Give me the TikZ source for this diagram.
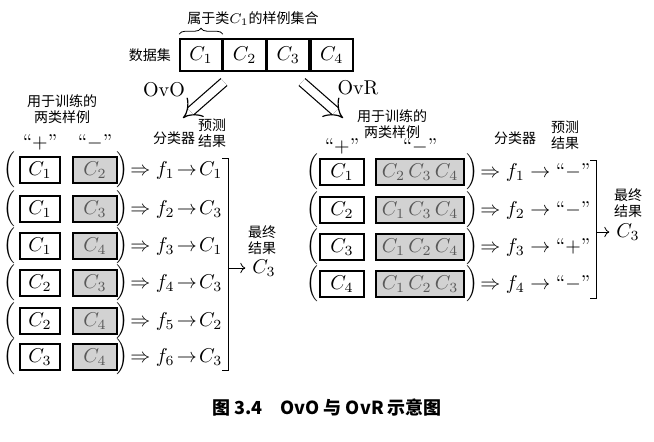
\documentclass[tikz,border=0pt]{standalone}
\usepackage{fontspec}
\newfontfamily\cjk{Noto Sans CJK SC}
\usetikzlibrary{positioning,arrows.meta,decorations.pathreplacing}
\tikzstyle{cls}=[draw, line width=1pt, minimum height=13pt, inner sep=1pt]
\tikzstyle{posbox}=[cls, fill=white, minimum width=20pt]
\tikzstyle{negbox}=[cls, fill=gray!35, text=black!65]
\tikzstyle{dbox}=[draw, line width=0.8pt, minimum width=21pt, minimum height=16pt, inner sep=1pt]
\tikzstyle{note}=[font=\cjk\scriptsize, align=center, inner sep=1pt]
\tikzstyle{bigarrow}=[double, line width=0.6pt, double distance=4pt, -{Implies[length=4pt]}]
\newcommand{\paren}[1]{\node[inner sep=0pt] at #1}

\begin{document}
\begin{tikzpicture}[x=0.5pt, y=-0.5pt]
\useasboundingbox (0,0) rectangle (654,441);
% data set on top
\node[dbox] (d1) at (201,55) {$C_1$};
\node[dbox, right=0pt of d1] (d2) {$C_2$};
\node[dbox, right=0pt of d2] (d3) {$C_3$};
\node[dbox, right=0pt of d3] (d4) {$C_4$};
\node[note, left=3pt of d1] (dset) {数据集};
\draw[decorate, decoration={brace, amplitude=3pt, raise=2pt}] (d1.north west) -- (d1.north east) coordinate[midway] (br);
\node[note, above=5pt of br, anchor=south west, xshift=-8pt] (brlab) {属于类$C_1$的样例集合};
\coordinate (ovo0) at (224,82); \coordinate (ovo1) at (183,118);
\coordinate (ovr0) at (302,82); \coordinate (ovr1) at (343,118);
\draw[bigarrow] (ovo0) -- (ovo1);
\draw[bigarrow] (ovr0) -- (ovr1);
\node (ovo) at (164,90) {OvO};
\node (ovr) at (358,88) {OvR};
% OvO
\node[note] (lhead) at (62,109) {用于训练的\\两类样例};
\node (lplus) at (40,142) {``$+$''};
\node (lminus) at (95,142) {``$-$''};
\node[note] (lclf) at (174,138) {分类器};
\node[note] (lpred) at (212,133) {预测\\结果};
\foreach \i/\y/\n/\r in {1/170/2/1, 2/209/3/3, 3/246/4/1, 4/283/3/3, 5/321/4/2, 6/357/4/3}{
  \pgfmathtruncatemacro{\p}{\i<4 ? 1 : (\i<6 ? 2 : 3)}
  \paren{(9,\y)} (lo\i) {$\Big($};
  \node[posbox] (lp\i) at (40,\y) {$C_{\p}$};
  \node[negbox, minimum width=22pt] (ln\i) at (95,\y) {$C_{\n}$};
  \paren{(122,\y)} (lc\i) {$\Big)$};
  \node[anchor=west, inner sep=1pt] (lf\i) at (128,\y) {$\Rightarrow f_{\i}\!\rightarrow\! C_{\r}$};
}
\coordinate (lbt) at (228,158); \coordinate (lbb) at (228,370);
\draw (222,158) -- (lbt) -- (lbb) -- (222,370);
\node[note] (lfin) at (262,240) {最终\\结果};
\node (lres) at (264,268) {$C_3$};
\draw[-{To}] (lbt |- lres) -- (lres);
% OvR
\node[note] (rhead) at (392,124) {用于训练的\\两类样例};
\node (rplus) at (342,146) {``$+$''};
\node (rminus) at (420,146) {``$-$''};
\node[note] (rclf) at (515,138) {分类器};
\node[note] (rpred) at (565,135) {预测\\结果};
\foreach \i/\y/\o/\s in {1/172/{C_2\,C_3\,C_4}/-, 2/210/{C_1\,C_3\,C_4}/-, 3/247/{C_1\,C_2\,C_4}/+, 4/284/{C_1\,C_2\,C_3}/-}{
  \paren{(312,\y)} (ro\i) {$\Big($};
  \node[posbox, minimum width=22pt] (rp\i) at (342,\y) {$C_{\i}$};
  \node[negbox, minimum width=44pt] (rn\i) at (420,\y) {$\o$};
  \paren{(472,\y)} (rc\i) {$\Big)$};
  \node[anchor=west, inner sep=1pt] (rf\i) at (478,\y) {$\Rightarrow f_{\i} \rightarrow{}$``$\s$''};
}
\coordinate (rbt) at (596,160); \coordinate (rbb) at (596,298);
\draw (590,160) -- (rbt) -- (rbb) -- (590,298);
\node[note] (rfin) at (628,203) {最终\\结果};
\node (rres) at (628,232) {$C_3$};
\draw[-{To}] (rbt |- rres) -- (rres);
% caption
\node[font=\cjk\small\bfseries] (cap) at (327,408) {图 \textbf{3.4}\quad OvO 与 OvR 示意图};
\end{tikzpicture}
\end{document}
